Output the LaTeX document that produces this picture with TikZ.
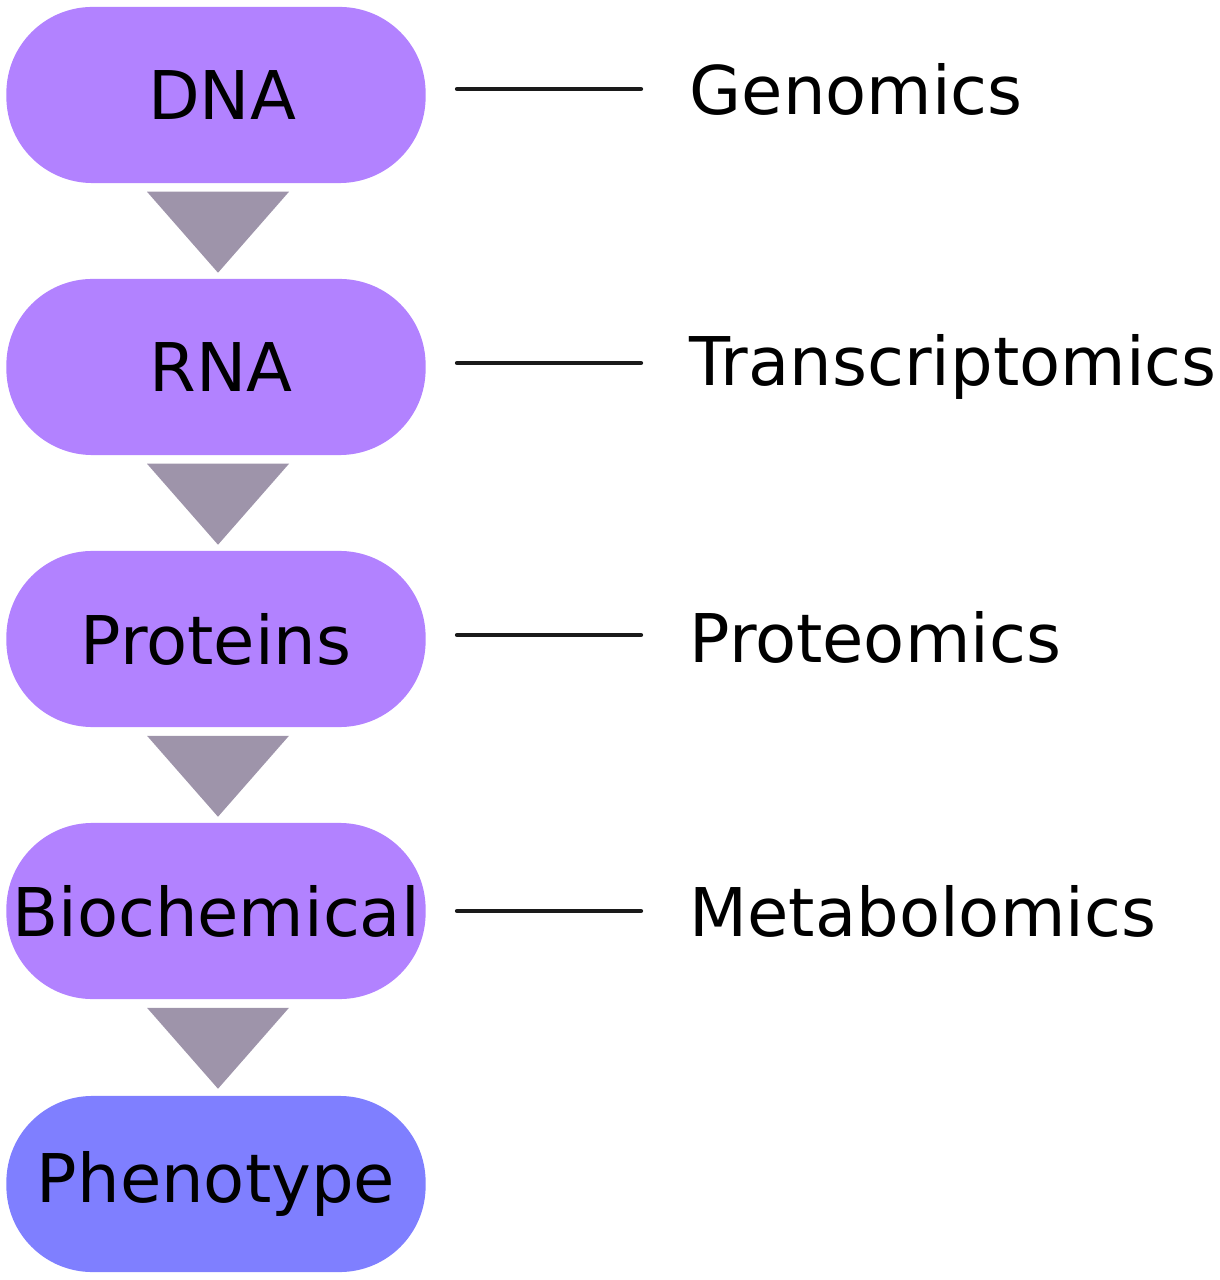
\documentclass[tikz,border=0pt]{standalone}
\usepackage{fontspec}
\setmainfont{DejaVu Sans}
\usetikzlibrary{calc}
\definecolor{pill}{HTML}{B282FF}
\definecolor{pheno}{HTML}{7F7FFF}
\definecolor{tri}{HTML}{9E94AA}
\definecolor{ink}{HTML}{1A1A1A}
\tikzset{
  stage/.style={fill=pill, rounded corners=0.86cm, minimum width=4.19cm, minimum height=1.76cm, inner sep=0pt, font=\fontsize{19.1}{23}\selectfont},
  omics/.style={anchor=west, inner sep=0pt, font=\fontsize{19.1}{23}\selectfont},
  link/.style={ink, line width=1.2pt, line cap=round},
}
\begin{document}
\begin{tikzpicture}[x=0.01cm,y=-0.01cm]
	% canvas
	\useasboundingbox (0,0) rectangle (1219,1280);

	% stages
	\node[stage] (dna) at (216,95) {\hspace{0.12cm}DNA};
	\node[stage] (rna) at (216,367) {\hspace{0.1cm}RNA};
	\node[stage] (prot) at (216,639) {Proteins};
	\node[stage] (bio) at (216,911) {Biochemical};
	\node[stage, fill=pheno] (phen) at (216,1184) {Phenotype};

	% arrows between stages
	\foreach \a/\b in {dna/rna, rna/prot, prot/bio, bio/phen}{
		\fill[tri] ($(\a.south)+(-69,8)$) -- ($(\a.south)+(73,8)$) -- ($(\a.south)+(2,89)$) -- cycle;
	}

	% omics labels
	\node[omics] (gen) at (689,89) {Genomics};
	\node[omics] (tra) at (689,367) {Transcriptomics};
	\node[omics] (pro) at (689,637) {Proteomics};
	\node[omics] (met) at (689,911) {Metabolomics};

	% links
	\foreach \s/\t/\y in {dna/gen/89, rna/tra/363, prot/pro/635, bio/met/911}{
		\coordinate (\s-l) at (457,\y);
		\coordinate (\t-l) at (641,\y);
		\draw[link] (\s-l) -- (\t-l);
	}
\end{tikzpicture}
\end{document}
